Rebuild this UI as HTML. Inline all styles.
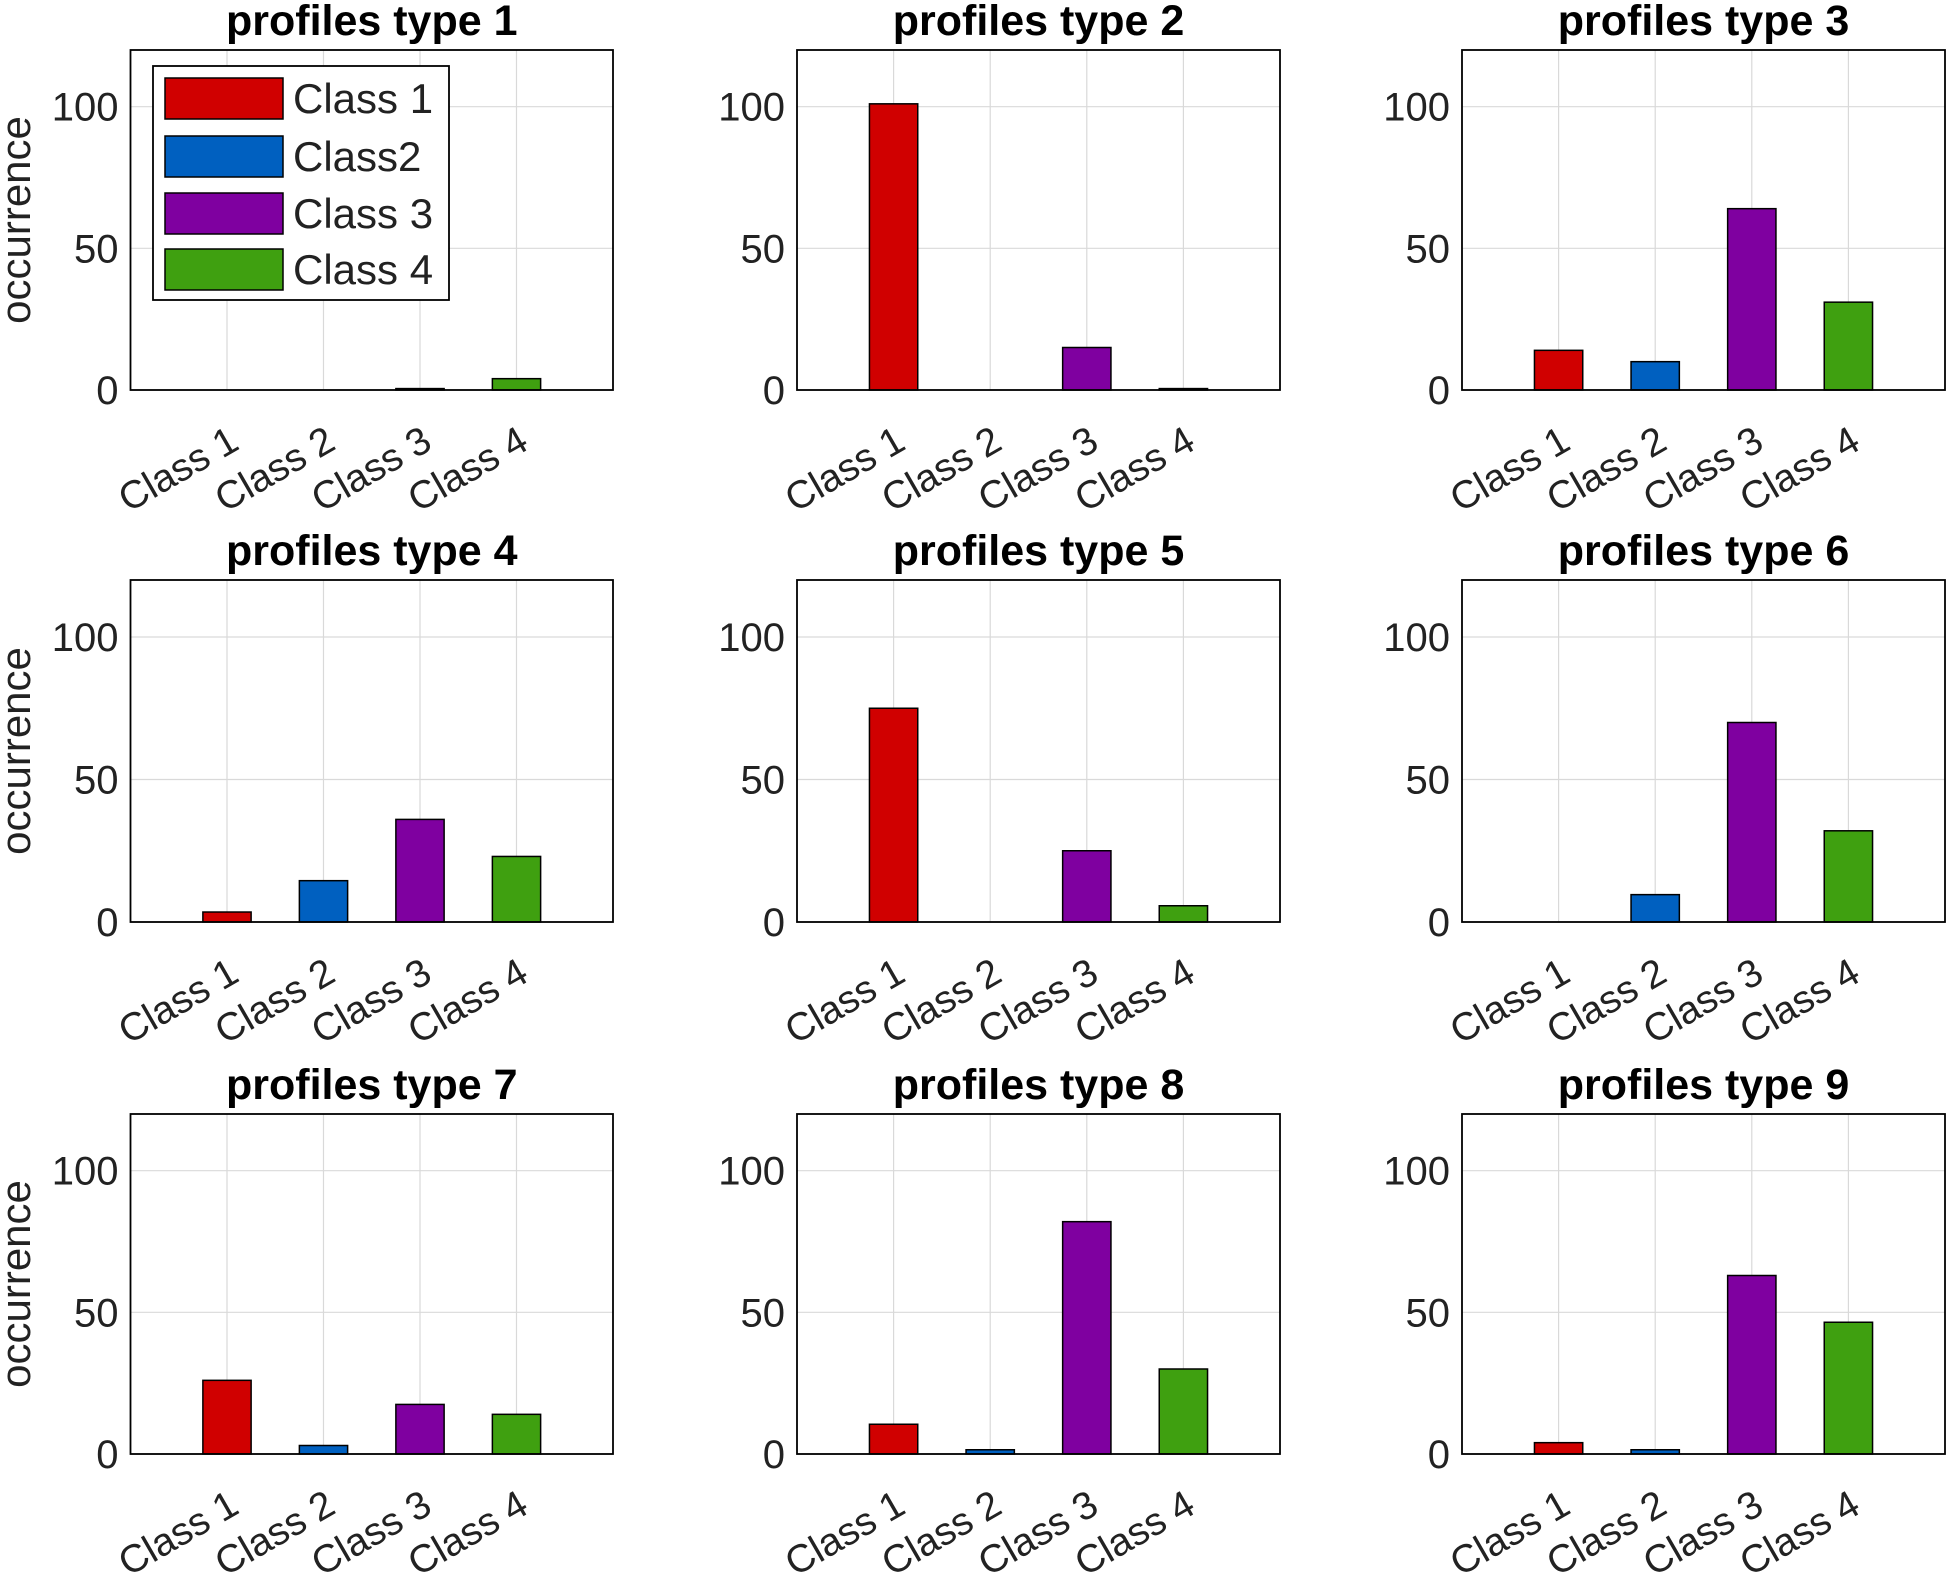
<!DOCTYPE html>
<html><head><meta charset="utf-8"><style>
html,body{margin:0;padding:0;background:#fff;}
svg{display:block;font-family:"Liberation Sans",Arial,sans-serif;}
</style></head><body>
<svg id="fig" width="1949" height="1572" viewBox="0 0 1949 1572"></svg>
<script>
const categories = ["Class 1","Class 2","Class 3","Class 4"];
const panelTitles = ["profiles type 1","profiles type 2","profiles type 3","profiles type 4","profiles type 5","profiles type 6","profiles type 7","profiles type 8","profiles type 9"];
const values1 = [0, 0, 0.5, 4];
const values2 = [101, 0, 15, 0.5];
const values3 = [14, 10, 64, 31];
const values4 = [3.5, 14.5, 36, 23];
const values5 = [75, 0, 25, 5.7];
const values6 = [0, 9.6, 70, 32];
const values7 = [26, 3, 17.5, 14];
const values8 = [10.5, 1.5, 82, 30];
const values9 = [4, 1.5, 63, 46.5];
const allValues = [values1,values2,values3,values4,values5,values6,values7,values8,values9];
const yTicks = [0, 50, 100];
const legendLabels = ["Class 1","Class2","Class 3","Class 4"];
const colors = ["#d00000","#0060c0","#7f00a0","#3fa010"];

const NS="http://www.w3.org/2000/svg";
const svg=document.getElementById('fig');
function mk(tag,attrs,parent){const e=document.createElementNS(NS,tag);for(const k in attrs)e.setAttribute(k,attrs[k]);(parent||svg).appendChild(e);return e;}
const colL=[130.5,797,1462], colR=[613,1280,1945];
const rowT=[50,580,1114], rowB=[390,922,1454];
const yMax=120, xMin=0, xMax=5, barW=0.5;

for(let p=0;p<9;p++){
  const c=p%3, r=Math.floor(p/3);
  const L=colL[c],R=colR[c],T=rowT[r],B=rowB[r];
  const xs=v=>L+(v-xMin)/(xMax-xMin)*(R-L);
  const ys=v=>B-v/yMax*(B-T);
  const g=mk('g',{});
  
  
  mk('rect',{x:L,y:T,width:R-L,height:B-T,fill:'#fff'},g);
  categories.forEach((cat,i)=>{
    const l=mk('line',{x1:xs(i+1),x2:xs(i+1),y1:T,y2:B,stroke:'#d9d9d9','stroke-width':1.2},g);
    
    
  });
  yTicks.forEach(t=>{
    const l=mk('line',{x1:L,x2:R,y1:ys(t),y2:ys(t),stroke:'#d9d9d9','stroke-width':1.2},g);
    
    
  });
  allValues[p].forEach((v,i)=>{
    const x0=xs(i+1-barW/2), x1=xs(i+1+barW/2);
    const b=mk('rect',{x:x0,y:ys(v),width:x1-x0,height:Math.max(0,B-ys(v)),fill:colors[i],stroke:'#000','stroke-width':1.5},g);
    
    
  });
  const bx=mk('rect',{x:L,y:T,width:R-L,height:B-T,fill:'none',stroke:'#000','stroke-width':1.8},g);
  
  
  yTicks.forEach(t=>{
    const tx=mk('text',{x:L-12,y:ys(t)+14,'text-anchor':'end','font-size':40,fill:'#222'},g);
    tx.textContent=t;
    
    
  });
  categories.forEach((cat,i)=>{
    const X=xs(i+1)+14, Y=B+58;
    const tx=mk('text',{x:X,y:Y,'text-anchor':'end','font-size':39,fill:'#222',transform:`rotate(-30 ${X} ${Y})`},g);
    tx.textContent=cat;
    
    
  });
  const tt=mk('text',{x:(L+R)/2,y:T-15,'text-anchor':'middle','font-size':43,'font-weight':'bold',fill:'#000'},g);
  tt.textContent=panelTitles[p];
  
  
  if(c===0){
    const cy=(T+B)/2;
    const yl=mk('text',{x:30,y:cy,'text-anchor':'middle','font-size':42,fill:'#222',transform:`rotate(-90 30 ${cy})`},g);
    yl.textContent='occurrence';
    
    
  }
}
const lg=mk('g',{});


mk('rect',{x:153,y:66,width:296,height:234,fill:'#fff',stroke:'#000','stroke-width':1.8},lg);
const rowsY=[98,156,213,269];
legendLabels.forEach((lab,i)=>{
  const e=mk('g',{},lg);
  
  
  mk('rect',{x:165,y:rowsY[i]-20,width:118,height:41,fill:colors[i],stroke:'#000','stroke-width':1.5},e);
  const t=mk('text',{x:293,y:rowsY[i]+15,'font-size':42,fill:'#222'},e);
  t.textContent=lab;
});
</script>
</body></html>
